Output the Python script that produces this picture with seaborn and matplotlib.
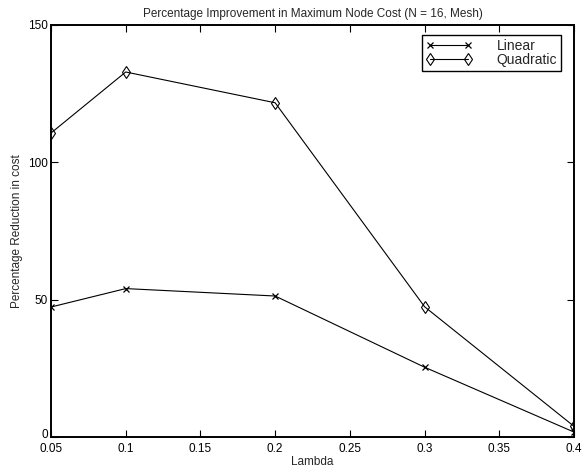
import matplotlib
matplotlib.use("Agg")
import matplotlib.pyplot as plt
import matplotlib.transforms as mtransforms
import seaborn as sns
import pandas as pd

# Series values
lambdas = [0.05, 0.1, 0.2, 0.3, 0.4]
linear = [47.4, 54.1, 51.4, 25.5, 1.9]
quadratic = [110.7, 132.9, 121.7, 47.5, 4.0]

x_ticks = [0.05, 0.1, 0.15, 0.2, 0.25, 0.3, 0.35, 0.4]
x_tick_labels = ["0.05", "0.1", "0.15", "0.2", "0.25", "0.3", "0.35", "0.4"]
y_ticks = [0, 50, 100, 150]

sns.set_style("ticks")
plt.rcParams["font.family"] = ["Liberation Sans", "DejaVu Sans"]

fig = plt.figure(figsize=(5.85, 4.67), dpi=100)
ax = fig.add_axes([0.0872, 0.0636, 0.894, 0.8829])

df = pd.DataFrame({"Lambda": lambdas, "Linear": linear, "Quadratic": quadratic})

sns.lineplot(data=df, x="Lambda", y="Linear", ax=ax, color="black", lw=0.8,
             marker="x", markersize=4.5, markeredgecolor="black",
             markeredgewidth=0.9, label="Linear")
sns.lineplot(data=df, x="Lambda", y="Quadratic", ax=ax, color="black", lw=0.8,
             marker="d", markersize=6.5, markerfacecolor="none",
             markeredgecolor="black", markeredgewidth=0.8, label="Quadratic")

ax.set_xlim(0.05, 0.4)
ax.set_ylim(0, 150)
ax.set_xticks(x_ticks)
ax.set_xticklabels(x_tick_labels)
ax.set_yticks(y_ticks)
ax.tick_params(direction="in", length=5, width=0.8, top=True, right=True,
               labelsize=8.5, colors="black", pad=2)
ax.tick_params(axis="x", pad=4)
for s in ax.spines.values():
    s.set_visible(True)
    s.set_linewidth(1.4)
    s.set_color("black")

# lift the "0" label a little so it clears the first x tick label
fig.canvas.draw()
zero_lbl = ax.get_yticklabels()[0]
zero_lbl.set_transform(zero_lbl.get_transform() +
                       mtransforms.ScaledTranslation(0, 3 / 72, fig.dpi_scale_trans))

ax.set_xlabel("Lambda", fontsize=8.5, labelpad=1)
ax.set_ylabel("Percentage Reduction in cost", fontsize=8.5, labelpad=4)
ax.set_title("Percentage Improvement in Maximum Node Cost (N = 16, Mesh)",
             fontsize=8.5, pad=6)

leg = ax.legend(loc="upper right", bbox_to_anchor=(0.976, 0.976),
                fontsize=10, frameon=True, fancybox=False, borderpad=0.3,
                numpoints=2, handlelength=3.3, handletextpad=1.8,
                labelspacing=0.0, borderaxespad=0)
leg.get_frame().set_edgecolor("black")
leg.get_frame().set_linewidth(1.0)
leg.get_frame().set_alpha(1)

fig.savefig("out.png", dpi=100)
